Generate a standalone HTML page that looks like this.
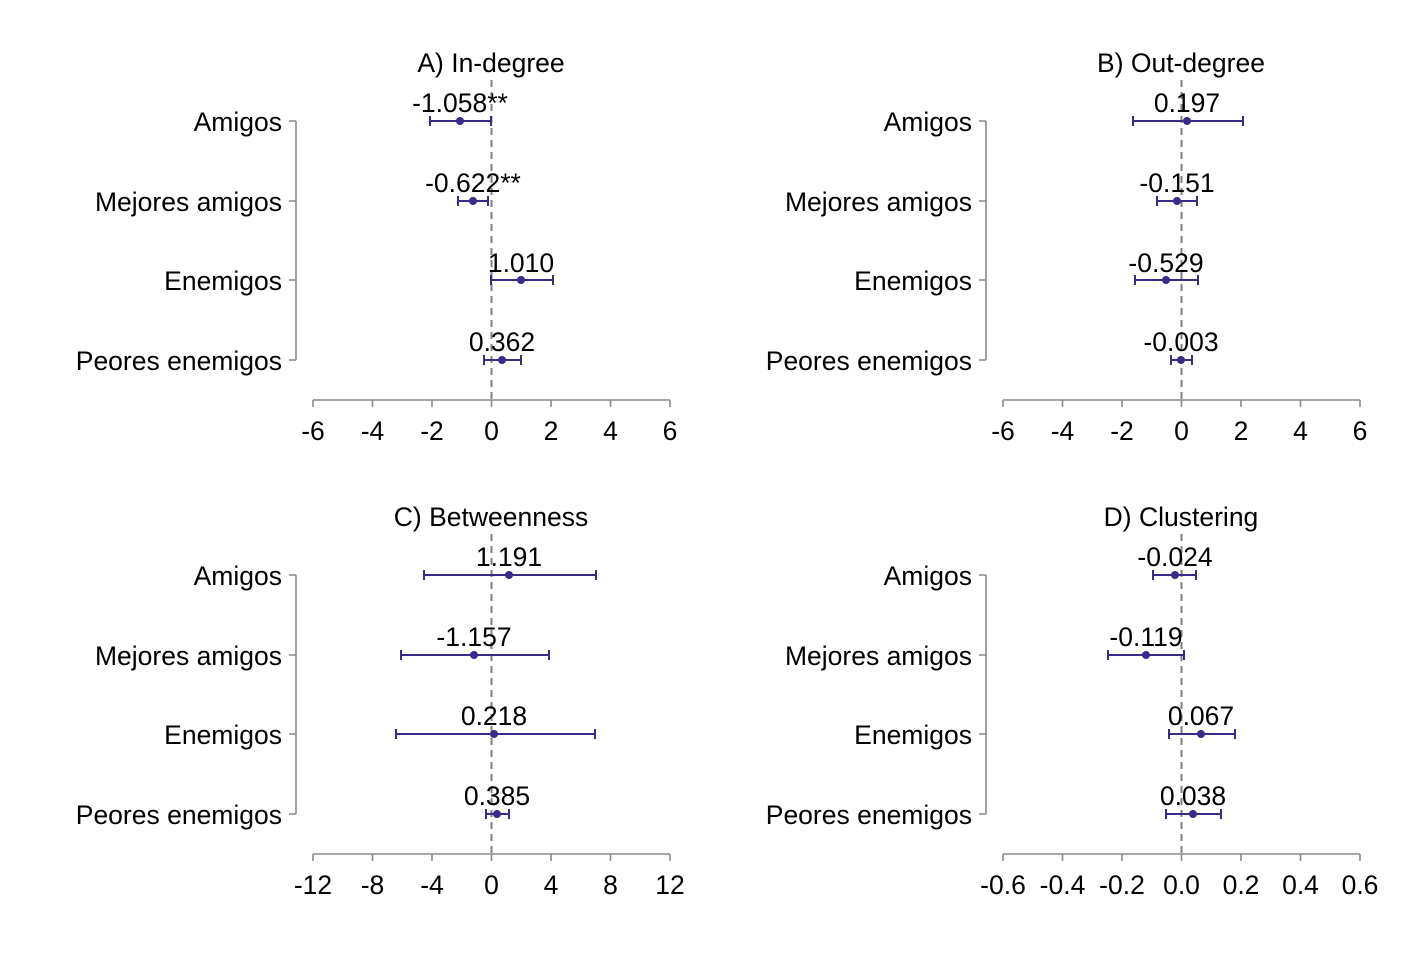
<!DOCTYPE html>
<html><head><meta charset="utf-8"><style>
body{margin:0;background:#fff}
text{font-family:"Liberation Sans",Arial,sans-serif;font-size:26.5px;fill:#000}
.ax{stroke:#8a8a8a;stroke-width:1.6;fill:none}
.dz{stroke:#808080;stroke-width:2;stroke-dasharray:7,5}
.ci{stroke:#3b2a8c;stroke-width:2;fill:none}
.pt{fill:#3b2a8c}
.yl{text-anchor:end}
.c{text-anchor:middle}
</style></head><body>
<svg width="1423" height="949" xmlns="http://www.w3.org/2000/svg">
<defs>
<g id="frame">
<path class="ax" d="M296,121V360M289,121H296M289,201H296M289,280H296M289,360H296"/>
<path class="ax" d="M313,400H670M313,400v7M372.5,400v7M432,400v7M491.5,400v7M551,400v7M610.5,400v7M670,400v7"/>
<line class="dz" x1="491.5" y1="80" x2="491.5" y2="400"/>
<text class="yl" x="282" y="131">Amigos</text>
<text class="yl" x="282" y="211">Mejores amigos</text>
<text class="yl" x="282" y="290">Enemigos</text>
<text class="yl" x="282" y="370">Peores enemigos</text>
</g>
</defs>

<!-- A -->
<use href="#frame"/>
<text class="c" x="491" y="72">A) In-degree</text>
<g class="c">
<text x="313" y="440">-6</text><text x="372.5" y="440">-4</text><text x="432" y="440">-2</text><text x="491.5" y="440">0</text><text x="551" y="440">2</text><text x="610.5" y="440">4</text><text x="670" y="440">6</text>
</g>
<path class="ci" d="M430,121H491M430,116v10M491,116v10 M458,201H488M458,196v10M488,196v10 M491,280H553M491,275v10M553,275v10 M484,360H521M484,355v10M521,355v10"/>
<circle class="pt" cx="460" cy="121" r="4"/><circle class="pt" cx="473" cy="201" r="4"/><circle class="pt" cx="521" cy="280" r="4"/><circle class="pt" cx="502" cy="360" r="4"/>
<text class="c" x="460" y="112">-1.058**</text><text class="c" x="473" y="192">-0.622**</text><text class="c" x="521" y="272">1.010</text><text class="c" x="502" y="351">0.362</text>

<!-- B -->
<use href="#frame" transform="translate(690,0)"/>
<text class="c" x="1181" y="72">B) Out-degree</text>
<g class="c">
<text x="1003" y="440">-6</text><text x="1062.5" y="440">-4</text><text x="1122" y="440">-2</text><text x="1181.5" y="440">0</text><text x="1241" y="440">2</text><text x="1300.5" y="440">4</text><text x="1360" y="440">6</text>
</g>
<path class="ci" d="M1133,121H1243M1133,116v10M1243,116v10 M1157,201H1197M1157,196v10M1197,196v10 M1135,280H1198M1135,275v10M1198,275v10 M1171,360H1192M1171,355v10M1192,355v10"/>
<circle class="pt" cx="1187" cy="121" r="4"/><circle class="pt" cx="1177" cy="201" r="4"/><circle class="pt" cx="1166" cy="280" r="4"/><circle class="pt" cx="1181" cy="360" r="4"/>
<text class="c" x="1187" y="112">0.197</text><text class="c" x="1177" y="192">-0.151</text><text class="c" x="1166" y="272">-0.529</text><text class="c" x="1181" y="351">-0.003</text>

<!-- C -->
<use href="#frame" transform="translate(0,454)"/>
<text class="c" x="491" y="526">C) Betweenness</text>
<g class="c">
<text x="313" y="894">-12</text><text x="372.5" y="894">-8</text><text x="432" y="894">-4</text><text x="491.5" y="894">0</text><text x="551" y="894">4</text><text x="610.5" y="894">8</text><text x="670" y="894">12</text>
</g>
<path class="ci" d="M424,575H596M424,570v10M596,570v10 M401,655H549M401,650v10M549,650v10 M396,734H595M396,729v10M595,729v10 M486,814H509M486,809v10M509,809v10"/>
<circle class="pt" cx="509" cy="575" r="4"/><circle class="pt" cx="474" cy="655" r="4"/><circle class="pt" cx="494" cy="734" r="4"/><circle class="pt" cx="497" cy="814" r="4"/>
<text class="c" x="509" y="566">1.191</text><text class="c" x="474" y="646">-1.157</text><text class="c" x="494" y="725">0.218</text><text class="c" x="497" y="805">0.385</text>

<!-- D -->
<use href="#frame" transform="translate(690,454)"/>
<text class="c" x="1181" y="526">D) Clustering</text>
<g class="c">
<text x="1003" y="894">-0.6</text><text x="1062.5" y="894">-0.4</text><text x="1122" y="894">-0.2</text><text x="1181.5" y="894">0.0</text><text x="1241" y="894">0.2</text><text x="1300.5" y="894">0.4</text><text x="1360" y="894">0.6</text>
</g>
<path class="ci" d="M1153,575H1196M1153,570v10M1196,570v10 M1108,655H1184M1108,650v10M1184,650v10 M1169,734H1235M1169,729v10M1235,729v10 M1166,814H1221M1166,809v10M1221,809v10"/>
<circle class="pt" cx="1175" cy="575" r="4"/><circle class="pt" cx="1146" cy="655" r="4"/><circle class="pt" cx="1201" cy="734" r="4"/><circle class="pt" cx="1193" cy="814" r="4"/>
<text class="c" x="1175" y="566">-0.024</text><text class="c" x="1146" y="646">-0.119</text><text class="c" x="1201" y="725">0.067</text><text class="c" x="1193" y="805">0.038</text>
</svg>
</body></html>
